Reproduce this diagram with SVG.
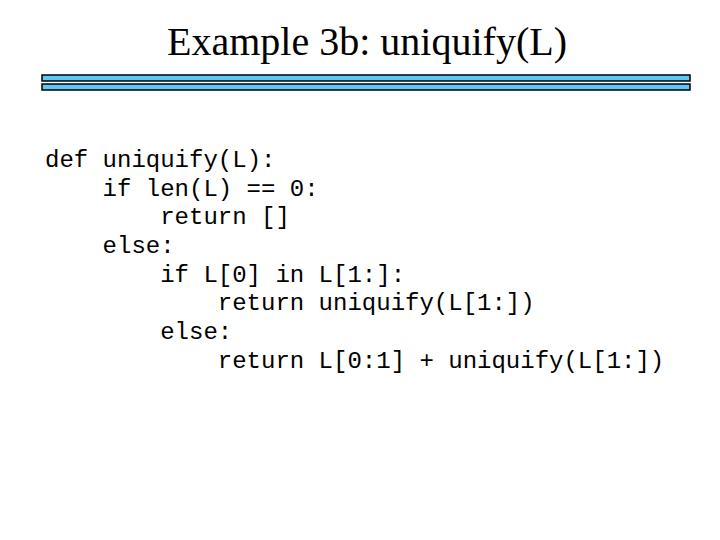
<svg xmlns="http://www.w3.org/2000/svg" width="720" height="540" viewBox="0 0 720 540">
<style>
.t{font-family:"Liberation Serif",serif;font-size:40px;fill:#000}
.c{font-family:"Liberation Mono",monospace;font-size:24px;fill:#000}
.bar{fill:#5BC8F5;stroke:#000;stroke-width:1.5}
</style>
<rect width="720" height="540" fill="#fff"/>
<text class="t" x="367" y="55" text-anchor="middle">Example 3b: uniquify(L)</text>
<rect class="bar" x="42" y="75" width="648" height="6"/>
<rect class="bar" x="42" y="84" width="648" height="6"/>
<g class="c">
<text x="45" y="167">def uniquify(L):</text>
<text x="102.6" y="196">if len(L) == 0:</text>
<text x="160.2" y="224">return []</text>
<text x="102.6" y="253">else:</text>
<text x="160.2" y="282">if L[0] in L[1:]:</text>
<text x="217.8" y="310">return uniquify(L[1:])</text>
<text x="160.2" y="339">else:</text>
<text x="217.8" y="368">return L[0:1] + uniquify(L[1:])</text>
</g>
</svg>
